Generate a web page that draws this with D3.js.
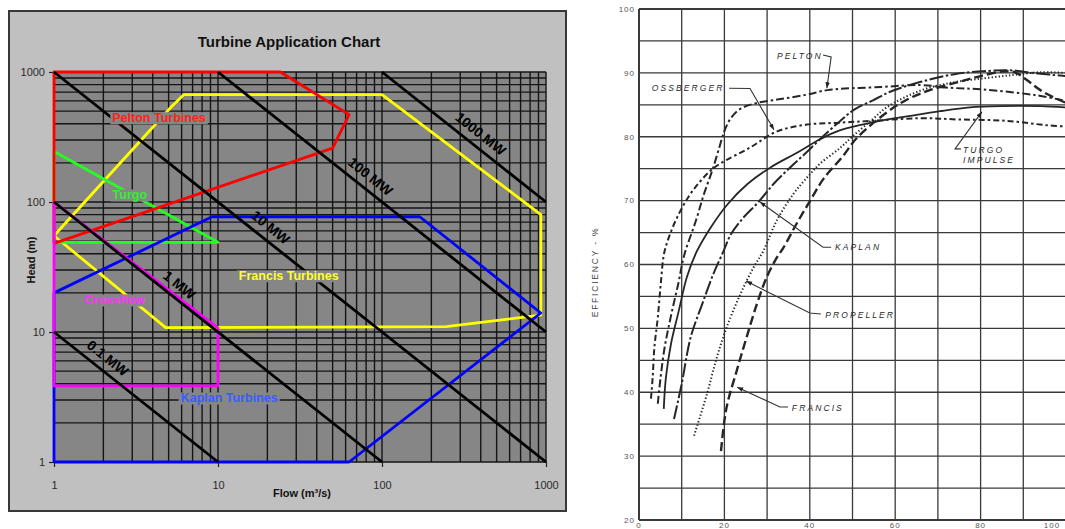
<!DOCTYPE html>
<html><head><meta charset="utf-8">
<script src="https://cdn.jsdelivr.net/npm/d3@7"></script>
<style>
html,body{margin:0;padding:0;background:#fff;}
svg{display:block;}
</style></head>
<body>
<svg id="chart" width="1065" height="529"></svg>
<script>
// ================= LEFT CHART DATA (Flow Q m3/s, Head H m) =================
const leftTitle = "Turbine Application Chart";
const flowTicks = [1, 10, 100, 1000];
const flowTickLabels = ["1", "10", "100", "1000"];
const headTicks = [1, 10, 100, 1000];
const headTickLabels = ["1", "10", "100", "1000"];
const flowTitle = "Flow (m\u00B3/s)";
const headTitle = "Head (m)";

const francisRegion = [[1,55],[5.2,540],[6.2,670],[100,670],[930,80],[930,13.5],[246,11],[4.8,10.8],[1,55]];
const turgoRegion = [[1,245],[10,49],[1,49],[1,245]];
const peltonRegion = [[1,48],[1,1000],[24,1000],[63,470],[50,260],[1,48]];
const kaplanRegion = [[1,1],[63,1],[930,14],[170,77],[9.2,77],[1,20],[1,1]];
const crossflowRegion = [[1,100],[10,10.7],[10,3.85],[1,3.85],[1,100]];

const regionNames = ["Francis", "Turgo", "Pelton", "Kaplan", "Crossflow"];
const regionLabels = ["Francis Turbines", "Turgo", "Pelton Turbines", "Kaplan Turbines", "Crossflow"];
const regionLabelQ = [27, 2.9, 4.37, 11.7, 2.34];
const regionLabelH = [27, 113, 444, 3.1, 17.6];

const mwLabels = ["0.1 MW", "1 MW", "10 MW", "100 MW", "1000 MW"];
const mwQH = [10, 100, 1000, 10000, 100000];
const mwLabelQ = [1.9, 5.2, 18.7, 76, 357];

// ================= RIGHT CHART DATA (% of rated flow, efficiency %) =================
const effXTicks = [0, 20, 40, 60, 80, 100];
const effYTicks = [20, 30, 40, 50, 60, 70, 80, 90, 100];
const effTitle = "EFFICIENCY - %";

const peltonEff = [[4.4,38.2],[5,42],[6,47],[7.5,52],[9.2,57],[10.6,61.5],[13.3,66.8],[15.2,71],[17.2,74.8],[18.8,78.3],[20,80.9],[21.6,83],[23.8,84.4],[27.7,85.3],[33.2,85.9],[39.4,86.6],[44.1,87.3],[57,87.8],[66,88.1],[72,87.7],[80.6,87.4],[93,86.5],[100,85.6]];
const ossbergerEff = [[2.8,39],[3.2,42.3],[3.6,47],[4.4,51.7],[5.1,57],[5.9,61.8],[7.3,64.8],[9.1,67.6],[11.5,70.5],[13.8,72.6],[16.6,74.6],[19,75.8],[26,78.3],[32.2,80.8],[39.3,81.9],[47,82.2],[54.8,82.5],[65.8,82.9],[75,82.7],[86,82.5],[95.5,81.8],[100,81.6]];
const turgoEff = [[5.8,37.4],[6.3,42.3],[7.5,47.6],[9.3,52.7],[11.2,58],[13.5,62],[16.8,65.8],[20.7,69.4],[25.4,72.6],[30.8,75.2],[37,77.5],[42.4,79.6],[47,81],[55,82.3],[65.8,83.5],[70.5,84],[77.5,84.6],[85,84.8],[94,84.8],[100,84.6]];
const kaplanEff = [[8.2,35.8],[10,41.3],[12.1,48.6],[14.8,53.8],[17.4,58.5],[19.8,62.1],[21.5,64.7],[24.4,67.3],[28,69.8],[31.5,72.6],[35.4,75.2],[39.3,77.6],[43,80],[47,82.4],[50.5,84.3],[54.8,85.7],[58.3,86.9],[61.1,87.6],[66,88.6],[73.9,89.8],[81.7,90.3],[87,90.4],[93.4,89.9],[100,89.5]];
const propellerEff = [[12.9,33.2],[15.9,39.7],[18.2,45.4],[20.5,50.1],[23.7,55.3],[26.8,59.5],[29.1,62.1],[32.2,66.8],[36.1,71],[40,74.1],[42.4,75.8],[47,78.2],[50.1,80.1],[54.8,82.8],[58,84.6],[65.8,87.2],[73.5,88.5],[81.4,89.2],[88,89.7],[94,90.1],[100,90]];
const francisEff = [[19.2,30.8],[20.5,37.6],[22.9,43.4],[25.2,48.6],[27.6,53.8],[29.9,58],[32.3,61.1],[33.8,62.6],[37,66.5],[40.1,70],[43.2,73.4],[47.8,77],[51,79.8],[58,83.8],[62.7,85.8],[68.1,87.3],[75,88.6],[80,89.5],[85,90.2],[88,90.1],[91,88.8],[94,87.3],[97,86.2],[100,85.3]];

const effLabelTexts = ["PELTON", "OSSBERGER", "TURGO", "IMPULSE", "KAPLAN", "PROPELLER", "FRANCIS"];
const effLabelX = [32.3, 3.0, 75.9, 75.9, 45.9, 43.6, 35.8];
const effLabelY = [92.25, 87.2, 77.45, 75.9, 62.3, 51.6, 37.1];
const effLeaders = [
  [[43.1,92.8],[45,92.5],[44,87.6]],
  [[21.1,87.6],[26,87.55],[31.6,81.1]],
  [[75.4,78.1],[74,78.1],[80.3,83.9]],
  [[45,62.7],[43.1,62.7],[28.3,69.8]],
  [[42.6,52.25],[40,52.4],[25.1,57.4]],
  [[34.9,37.7],[33,37.7],[23,40.8]]
];

// ================= DRAWING =================
const svg = d3.select("#chart");
const defs = svg.append("defs");
defs.append("marker").attr("id","arr").attr("viewBox","0 0 8 6").attr("refX",8).attr("refY",3)
  .attr("markerWidth",6).attr("markerHeight",5).attr("markerUnits","userSpaceOnUse").attr("orient","auto")
  .append("path").attr("d","M0,0 L8,3 L0,6 Z").attr("fill","#222");

// ---------- LEFT ----------
const LF = "'Liberation Sans', Arial, sans-serif";
const L = {x0:54, x1:546, y0:72, y1:462};
const xQ = d3.scaleLog().domain([1,1000]).range([L.x0, L.x1]);
const yH = d3.scaleLog().domain([1,1000]).range([L.y1, L.y0]);
const plotFill = "#868686";

const left = svg.append("g");
left.append("rect").attr("x",9).attr("y",11).attr("width",557).attr("height",500)
  .attr("fill","#c0c0c0").attr("stroke","#383838").attr("stroke-width",2);
left.append("rect").attr("x",L.x0).attr("y",L.y0).attr("width",L.x1-L.x0).attr("height",L.y1-L.y0)
  .attr("fill",plotFill);

// grid
const gGrid = left.append("g").attr("stroke","#151515").attr("stroke-width",1.4);
gGrid.selectAll(".vq").data(xQ.ticks()).join("line")
  .attr("x1",d=>xQ(d)).attr("x2",d=>xQ(d)).attr("y1",L.y0).attr("y2",L.y1);
gGrid.selectAll(".hh").data(yH.ticks()).join("line")
  .attr("x1",L.x0).attr("x2",L.x1).attr("y1",d=>yH(d)).attr("y2",d=>yH(d));

// axes
const axL = left.append("g").attr("transform",`translate(${L.x0},0)`)
  .call(d3.axisLeft(yH).tickValues(headTicks).tickFormat((d,i)=>headTickLabels[i]).tickSize(5).tickPadding(4));
const axB = left.append("g").attr("transform",`translate(0,${L.y1})`)
  .call(d3.axisBottom(xQ).tickValues(flowTicks).tickFormat((d,i)=>flowTickLabels[i]).tickSize(5).tickPadding(14));
[axL, axB].forEach(a=>{
  a.select(".domain").remove();
  a.selectAll(".tick line").attr("stroke","#222").attr("stroke-width",1.2);
  a.selectAll("text").attr("font-family",LF).attr("font-size",11).attr("fill","#2a2a2a");
});

left.append("text").attr("x",289).attr("y",47).attr("text-anchor","middle")
  .attr("font-family",LF).attr("font-weight","bold").attr("font-size",15).attr("fill","#111").text(leftTitle);
left.append("text").attr("x",302).attr("y",497).attr("text-anchor","middle")
  .attr("font-family",LF).attr("font-weight","bold").attr("font-size",11).attr("fill","#111").text(flowTitle);
left.append("text").attr("transform","translate(35,260) rotate(-90)").attr("text-anchor","middle")
  .attr("font-family",LF).attr("font-weight","bold").attr("font-size",11).attr("fill","#111").text(headTitle);

// regions
const regionData = [francisRegion, turgoRegion, peltonRegion, kaplanRegion, crossflowRegion];
const regionColors = ["#ffff00", "#22ff22", "#ff0000", "#0000ff", "#ff00ff"];
const lineQH = d3.line().x(d=>xQ(d[0])).y(d=>yH(d[1]));
left.append("g").selectAll("path").data(regionData).join("path")
  .attr("d",lineQH).attr("fill","none").attr("stroke",(d,i)=>regionColors[i])
  .attr("stroke-width",2.8).attr("stroke-linejoin","round");

// power lines
left.append("g").selectAll("path").data(mwQH).join("path")
  .attr("d",qh=>{
    const q0 = Math.max(1, qh/1000), q1 = Math.min(1000, qh/1);
    return lineQH([[q0, qh/q0],[q1, qh/q1]]);
  })
  .attr("fill","none").attr("stroke","#000").attr("stroke-width",2.8);

const angle = Math.atan2(yH(1)-yH(10), xQ(10)-xQ(1))*180/Math.PI;
left.append("g").selectAll("text").data(mwLabels).join("text")
  .attr("transform",(d,i)=>`translate(${xQ(mwLabelQ[i])},${yH(mwQH[i]/mwLabelQ[i])}) rotate(${angle})`)
  .attr("y",-8).attr("text-anchor","middle")
  .attr("font-family",LF).attr("font-weight","bold").attr("font-size",14).attr("fill","#000")
  .text(d=>d);

// region labels with opaque backgrounds
const labelColors = ["#ffff30", "#33ee33", "#ff2222", "#3a5cff", "#ff33ff"];
const gLab = left.append("g");
regionLabels.forEach((t,i)=>{
  const g = gLab.append("g");
  const tx = g.append("text").attr("x",xQ(regionLabelQ[i])).attr("y",yH(regionLabelH[i])).attr("dy","0.35em")
    .attr("text-anchor","middle").attr("font-family",LF).attr("font-weight","bold").attr("font-size",12.5)
    .attr("fill",labelColors[i]).text(t);
  const bb = tx.node().getBBox();
  g.insert("rect","text").attr("x",bb.x-2).attr("y",bb.y+1).attr("width",bb.width+4).attr("height",bb.height-2)
    .attr("fill",plotFill);
});

// ---------- RIGHT ----------
const RF = "'Liberation Sans', Arial, sans-serif";
const R = {x0:639, x1:1066, y0:9, y1:520};
const xE = d3.scaleLinear().domain([0,100]).range([R.x0,R.x1]);
const yE = d3.scaleLinear().domain([20,100]).range([R.y1,R.y0]);
const right = svg.append("g");

const gr = right.append("g").attr("stroke","#3a3a3a").attr("stroke-width",1.3);
gr.selectAll(".v").data(d3.range(0,101,10)).join("line")
  .attr("x1",d=>xE(d)).attr("x2",d=>xE(d)).attr("y1",R.y0).attr("y2",R.y1)
  .attr("stroke-width",d=>d===0?2:1.3);
gr.selectAll(".h").data(d3.range(20,101,5)).join("line")
  .attr("x1",R.x0).attr("x2",R.x1).attr("y1",d=>yE(d)).attr("y2",d=>yE(d))
  .attr("stroke-width",d=>(d===20||d===100)?1.8:1.3);

right.append("g").selectAll("text").data(effYTicks).join("text")
  .attr("x",R.x0-4).attr("y",d=>yE(d)).attr("dy","0.35em").attr("text-anchor","end")
  .attr("font-family",RF).attr("font-size",8).attr("letter-spacing",1).attr("fill","#555").text(d=>d);
right.append("g").selectAll("text").data(effXTicks).join("text")
  .attr("x",d=>Math.min(xE(d), 1052)).attr("y",528).attr("text-anchor","middle")
  .attr("font-family",RF).attr("font-size",8).attr("letter-spacing",1).attr("fill","#555").text(d=>d);
right.append("text").attr("transform","translate(598,272) rotate(-90)").attr("text-anchor","middle")
  .attr("font-family",RF).attr("font-size",8.5).attr("letter-spacing",1.8).attr("fill","#444").text(effTitle);

const effSeries = [peltonEff, ossbergerEff, turgoEff, kaplanEff, propellerEff, francisEff];
const effDash = ["8,3,2.5,3", "6,3,2.5,3", null, "14,2.5,2.5,2.5", "1.3,2.2", "9,4"];
const effWidth = [2, 2, 1.8, 2, 2, 2.4];
const lineE = d3.line().x(d=>xE(d[0])).y(d=>yE(d[1])).curve(d3.curveCatmullRom.alpha(0.5));
right.append("g").selectAll("path").data(effSeries).join("path")
  .attr("d",lineE).attr("fill","none").attr("stroke","#262626")
  .attr("stroke-width",(d,i)=>effWidth[i]).attr("stroke-dasharray",(d,i)=>effDash[i]);

const lineLead = d3.line().x(d=>xE(d[0])).y(d=>yE(d[1]));
right.append("g").selectAll("path").data(effLeaders).join("path")
  .attr("d",lineLead).attr("fill","none").attr("stroke","#333").attr("stroke-width",1.1)
  .attr("marker-end","url(#arr)");
right.append("g").selectAll("text").data(effLabelTexts).join("text")
  .attr("x",(d,i)=>xE(effLabelX[i])).attr("y",(d,i)=>yE(effLabelY[i]))
  .attr("font-family",RF).attr("font-style","italic").attr("font-size",8.5).attr("letter-spacing",2.1)
  .attr("fill","#2a2a2a").text(d=>d);
</script>
</body></html>
